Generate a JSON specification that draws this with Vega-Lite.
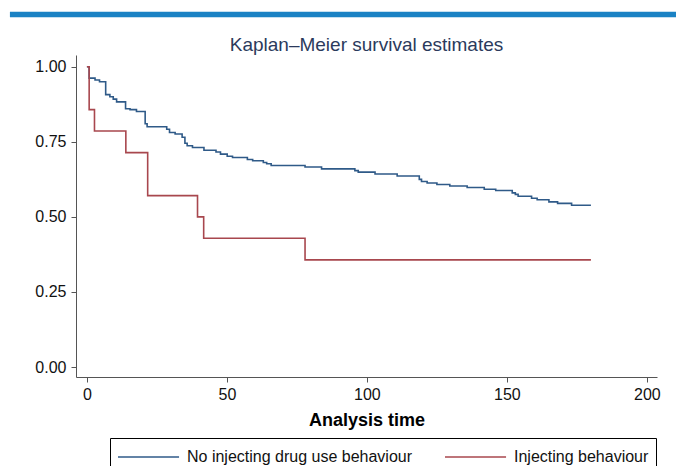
{
  "$schema": "https://vega.github.io/schema/vega-lite/v6.json",
  "autosize": {"type": "none"},
  "padding": {"left": 76, "top": 55, "right": 19, "bottom": 89},
  "width": 581,
  "height": 322,
  "background": "white",
  "config": {
    "view": {"stroke": null},
    "font": "Liberation Sans"
  },
  "title": {
    "text": "Kaplan–Meier survival estimates",
    "fontSize": 19,
    "fontWeight": "normal",
    "color": "#2b3a5c",
    "anchor": "middle",
    "frame": "group",
    "offset": -43,
    "font": "Liberation Sans"
  },
  "datasets": {
    "km": [
      {"t": 0, "s": 1.0, "g": "No injecting drug use behaviour"},
      {"t": 0.8, "s": 0.962, "g": "No injecting drug use behaviour"},
      {"t": 2.9, "s": 0.956, "g": "No injecting drug use behaviour"},
      {"t": 4.5, "s": 0.95, "g": "No injecting drug use behaviour"},
      {"t": 6.7, "s": 0.907, "g": "No injecting drug use behaviour"},
      {"t": 8.2, "s": 0.9, "g": "No injecting drug use behaviour"},
      {"t": 9.4, "s": 0.892, "g": "No injecting drug use behaviour"},
      {"t": 10.6, "s": 0.883, "g": "No injecting drug use behaviour"},
      {"t": 13.8, "s": 0.86, "g": "No injecting drug use behaviour"},
      {"t": 15.4, "s": 0.857, "g": "No injecting drug use behaviour"},
      {"t": 17.7, "s": 0.851, "g": "No injecting drug use behaviour"},
      {"t": 20.8, "s": 0.81, "g": "No injecting drug use behaviour"},
      {"t": 21.5, "s": 0.8, "g": "No injecting drug use behaviour"},
      {"t": 28.5, "s": 0.792, "g": "No injecting drug use behaviour"},
      {"t": 29.5, "s": 0.781, "g": "No injecting drug use behaviour"},
      {"t": 31.5, "s": 0.776, "g": "No injecting drug use behaviour"},
      {"t": 34.0, "s": 0.765, "g": "No injecting drug use behaviour"},
      {"t": 35.0, "s": 0.745, "g": "No injecting drug use behaviour"},
      {"t": 35.8, "s": 0.737, "g": "No injecting drug use behaviour"},
      {"t": 37.7, "s": 0.731, "g": "No injecting drug use behaviour"},
      {"t": 41.8, "s": 0.722, "g": "No injecting drug use behaviour"},
      {"t": 46.1, "s": 0.716, "g": "No injecting drug use behaviour"},
      {"t": 47.7, "s": 0.709, "g": "No injecting drug use behaviour"},
      {"t": 50.1, "s": 0.702, "g": "No injecting drug use behaviour"},
      {"t": 52.0, "s": 0.698, "g": "No injecting drug use behaviour"},
      {"t": 57.3, "s": 0.691, "g": "No injecting drug use behaviour"},
      {"t": 59.2, "s": 0.687, "g": "No injecting drug use behaviour"},
      {"t": 63.0, "s": 0.681, "g": "No injecting drug use behaviour"},
      {"t": 64.2, "s": 0.677, "g": "No injecting drug use behaviour"},
      {"t": 65.8, "s": 0.671, "g": "No injecting drug use behaviour"},
      {"t": 77.9, "s": 0.666, "g": "No injecting drug use behaviour"},
      {"t": 83.8, "s": 0.66, "g": "No injecting drug use behaviour"},
      {"t": 95.7, "s": 0.654, "g": "No injecting drug use behaviour"},
      {"t": 96.9, "s": 0.649, "g": "No injecting drug use behaviour"},
      {"t": 102.9, "s": 0.643, "g": "No injecting drug use behaviour"},
      {"t": 110.8, "s": 0.636, "g": "No injecting drug use behaviour"},
      {"t": 118.7, "s": 0.625, "g": "No injecting drug use behaviour"},
      {"t": 119.5, "s": 0.618, "g": "No injecting drug use behaviour"},
      {"t": 121.5, "s": 0.613, "g": "No injecting drug use behaviour"},
      {"t": 125.0, "s": 0.608, "g": "No injecting drug use behaviour"},
      {"t": 129.6, "s": 0.603, "g": "No injecting drug use behaviour"},
      {"t": 135.8, "s": 0.598, "g": "No injecting drug use behaviour"},
      {"t": 141.9, "s": 0.592, "g": "No injecting drug use behaviour"},
      {"t": 146.0, "s": 0.588, "g": "No injecting drug use behaviour"},
      {"t": 151.9, "s": 0.58, "g": "No injecting drug use behaviour"},
      {"t": 153.0, "s": 0.575, "g": "No injecting drug use behaviour"},
      {"t": 154.0, "s": 0.569, "g": "No injecting drug use behaviour"},
      {"t": 158.8, "s": 0.562, "g": "No injecting drug use behaviour"},
      {"t": 160.8, "s": 0.557, "g": "No injecting drug use behaviour"},
      {"t": 165.0, "s": 0.55, "g": "No injecting drug use behaviour"},
      {"t": 168.1, "s": 0.545, "g": "No injecting drug use behaviour"},
      {"t": 173.1, "s": 0.539, "g": "No injecting drug use behaviour"},
      {"t": 180.0, "s": 0.539, "g": "No injecting drug use behaviour"},
      {"t": 0, "s": 1.0, "g": "Injecting behaviour"},
      {"t": 0.8, "s": 0.857, "g": "Injecting behaviour"},
      {"t": 2.7, "s": 0.786, "g": "Injecting behaviour"},
      {"t": 13.9, "s": 0.714, "g": "Injecting behaviour"},
      {"t": 21.7, "s": 0.571, "g": "Injecting behaviour"},
      {"t": 39.5, "s": 0.5, "g": "Injecting behaviour"},
      {"t": 41.7, "s": 0.429, "g": "Injecting behaviour"},
      {"t": 77.9, "s": 0.357, "g": "Injecting behaviour"},
      {"t": 180.0, "s": 0.357, "g": "Injecting behaviour"}
    ]
  },
  "layer": [
    {
      "data": {"values": [{}]},
      "mark": {"type": "rule", "color": "#1a82c4", "strokeWidth": 5.5, "clip": false},
      "encoding": {
        "x": {"datum": -27.5, "type": "quantitative", "scale": {"domain": [-3.9, 203.6], "nice": false, "zero": false}},
        "x2": {"datum": 212},
        "y": {"datum": 1.174, "type": "quantitative", "scale": {"domain": [-0.033, 1.039], "nice": false, "zero": false}}
      }
    },
    {
      "data": {"name": "km"},
      "mark": {"type": "line", "interpolate": "step-after", "strokeWidth": 1.6},
      "encoding": {
        "x": {
          "field": "t",
          "type": "quantitative",
          "scale": {"domain": [-3.9, 203.6], "nice": false, "zero": false},
          "axis": {
            "values": [0, 50, 100, 150, 200],
            "title": "Analysis time",
            "titleFontSize": 18,
            "titleFontWeight": "bold",
            "titleColor": "#000000",
            "titlePadding": 9,
            "labelFontSize": 16,
            "labelColor": "#111111",
            "labelPadding": 4,
            "grid": false,
            "domainColor": "#555555",
            "tickColor": "#555555",
            "tickSize": 5,
            "labelFont": "Liberation Sans",
            "titleFont": "Liberation Sans"
          }
        },
        "y": {
          "field": "s",
          "type": "quantitative",
          "scale": {"domain": [-0.033, 1.039], "nice": false, "zero": false},
          "axis": {
            "values": [0, 0.25, 0.5, 0.75, 1],
            "format": ".2f",
            "title": null,
            "labelFontSize": 16,
            "labelColor": "#111111",
            "labelPadding": 5,
            "grid": false,
            "domainColor": "#555555",
            "tickColor": "#555555",
            "tickSize": 5,
            "labelFont": "Liberation Sans"
          }
        },
        "color": {
          "field": "g",
          "type": "nominal",
          "scale": {
            "domain": ["No injecting drug use behaviour", "Injecting behaviour"],
            "range": ["#2f5a88", "#a8474e"]
          },
          "legend": {
            "title": null,
            "orient": "none",
            "legendX": 34,
            "legendY": 383,
            "direction": "horizontal",
            "symbolType": "M-1,0H4.55",
            "symbolSize": 484,
            "symbolStrokeWidth": 1.6,
            "labelOffset": 46,
            "labelFontSize": 16,
            "labelColor": "#111111",
            "labelFont": "Liberation Sans",
            "strokeColor": "#000000",
            "padding": 7,
            "columnPadding": 28,
            "labelLimit": 400
          }
        }
      }
    }
  ]
}
